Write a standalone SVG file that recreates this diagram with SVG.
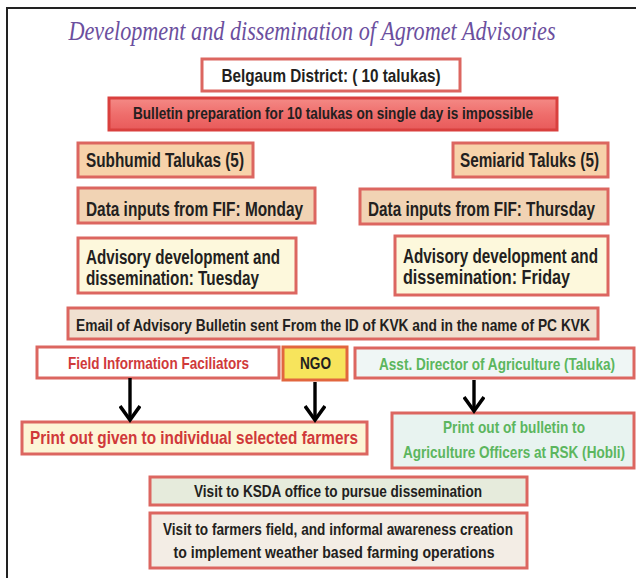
<svg xmlns="http://www.w3.org/2000/svg" width="637" height="578" viewBox="0 0 637 578">
<defs>
<style>
.bx{stroke:#dc6660;stroke-width:3}
.t{font-family:"Liberation Sans",Arial,sans-serif;font-weight:bold;fill:#231f20}
.red{fill:#d0393a}
.grn{fill:#5cb65e}
.ttl{font-family:"Liberation Serif","Times New Roman",serif;font-style:italic;fill:#6b4f9e;font-size:28px}
.ar{stroke:#000;stroke-width:3.4;fill:none}
</style>
<marker id="ah" markerUnits="userSpaceOnUse" markerWidth="20" markerHeight="22" refX="16" refY="11" orient="auto" viewBox="0 0 20 22">
<path d="M2,1 L16,11 L2,21" fill="none" stroke="#000" stroke-width="3.6" stroke-linejoin="miter"/>
</marker>
<linearGradient id="gRed" x1="0" y1="0" x2="0" y2="1">
<stop offset="0" stop-color="#f48a86"/><stop offset="0.5" stop-color="#ef6e6c"/><stop offset="1" stop-color="#e85a5a"/>
</linearGradient>
</defs>
<rect width="637" height="578" fill="#ffffff"/>
<path d="M7,578 V8 H636" fill="none" stroke="#222" stroke-width="2"/>
<text class="ttl" transform="translate(312,40) scale(0.83,1)" x="0" y="0" text-anchor="middle" textLength="587" lengthAdjust="spacingAndGlyphs">Development and dissemination of Agromet Advisories</text>

<g id="belgaum"><rect class="bx" x="202" y="59" width="258" height="32" fill="#ffffff"/>
<text class="t" transform="translate(331,82) scale(0.8,1)" x="0" y="0" font-size="18" text-anchor="middle" textLength="273.75" lengthAdjust="spacingAndGlyphs">Belgaum District: ( 10 talukas)</text></g>

<g id="bulletin"><rect x="109" y="98" width="448" height="32" fill="url(#gRed)" stroke="#d9403e" stroke-width="3"/>
<text class="t" transform="translate(333,119) scale(0.8,1)" x="0" y="0" font-size="16" text-anchor="middle" textLength="500" lengthAdjust="spacingAndGlyphs">Bulletin preparation for 10 talukas on single day is impossible</text></g>

<g id="subhumid"><rect class="bx" x="78" y="143" width="175" height="34" fill="#f7d2aa"/>
<text class="t" transform="translate(86,167) scale(0.8,1)" x="0" y="0" font-size="20" textLength="197.5" lengthAdjust="spacingAndGlyphs">Subhumid Talukas (5)</text></g>

<g id="data-monday"><rect class="bx" x="78" y="188" width="237" height="35" fill="#f1d3b4"/>
<text class="t" transform="translate(86,216) scale(0.8,1)" x="0" y="0" font-size="20" textLength="271.25" lengthAdjust="spacingAndGlyphs">Data inputs from FIF: Monday</text></g>

<g id="adv-tuesday"><rect class="bx" x="78" y="238" width="218" height="55" fill="#fdf8dc"/>
<text class="t" transform="translate(86,264) scale(0.8,1)" x="0" y="0" font-size="20" textLength="242.5" lengthAdjust="spacingAndGlyphs">Advisory development and</text>
<text class="t" transform="translate(86,285) scale(0.8,1)" x="0" y="0" font-size="20" textLength="216.25" lengthAdjust="spacingAndGlyphs">dissemination: Tuesday</text></g>

<g id="semiarid"><rect class="bx" x="453" y="143" width="155" height="34" fill="#f7d2aa"/>
<text class="t" transform="translate(460,167) scale(0.8,1)" x="0" y="0" font-size="20" textLength="173.75" lengthAdjust="spacingAndGlyphs">Semiarid Taluks (5)</text></g>

<g id="data-thursday"><rect class="bx" x="360" y="189" width="248" height="35" fill="#f1d3b4"/>
<text class="t" transform="translate(368,216) scale(0.8,1)" x="0" y="0" font-size="20" textLength="283.75" lengthAdjust="spacingAndGlyphs">Data inputs from FIF: Thursday</text></g>

<g id="adv-friday"><rect class="bx" x="395" y="236" width="213" height="59" fill="#fdf8dc"/>
<text class="t" transform="translate(403,263) scale(0.8,1)" x="0" y="0" font-size="20" textLength="243.75" lengthAdjust="spacingAndGlyphs">Advisory development and</text>
<text class="t" transform="translate(403,284) scale(0.8,1)" x="0" y="0" font-size="20" textLength="208.75" lengthAdjust="spacingAndGlyphs">dissemination: Friday</text></g>

<g id="email"><rect class="bx" x="68" y="308" width="530" height="31" fill="#f0e0d0"/>
<text class="t" transform="translate(76,331) scale(0.8,1)" x="0" y="0" font-size="16" textLength="642.5" lengthAdjust="spacingAndGlyphs">Email of Advisory Bulletin sent From the ID of KVK and in the name of PC KVK</text></g>

<g id="fif"><rect class="bx" x="37" y="347" width="242" height="31" fill="#ffffff"/>
<text class="t red" transform="translate(158.5,369) scale(0.8,1)" x="0" y="0" font-size="16" text-anchor="middle" textLength="226.25" lengthAdjust="spacingAndGlyphs">Field Information Faciliators</text></g>

<g id="ngo"><rect x="283" y="347" width="64" height="33" fill="#f7e45c" stroke="#e2663e" stroke-width="3"/>
<text class="t" transform="translate(315.5,369) scale(0.8,1)" x="0" y="0" font-size="16" text-anchor="middle" textLength="38.75" lengthAdjust="spacingAndGlyphs">NGO</text></g>

<g id="asst"><rect class="bx" x="355" y="348" width="279" height="30" fill="#eff6f5"/>
<text class="t grn" transform="translate(497,370) scale(0.8,1)" x="0" y="0" font-size="16" text-anchor="middle" textLength="295" lengthAdjust="spacingAndGlyphs">Asst. Director of Agriculture (Taluka)</text></g>

<g id="print-farmers"><rect class="bx" x="22" y="422" width="345" height="32" fill="#fdf5d6"/>
<text class="t red" transform="translate(30,444) scale(0.8,1)" x="0" y="0" font-size="18" textLength="410" lengthAdjust="spacingAndGlyphs">Print out given to individual selected farmers</text></g>

<g id="print-bulletin"><rect class="bx" x="392" y="413" width="242" height="55" fill="#e8f3f0"/>
<text class="t grn" transform="translate(514,433) scale(0.8,1)" x="0" y="0" font-size="16" text-anchor="middle" textLength="177.5" lengthAdjust="spacingAndGlyphs">Print out of bulletin to</text>
<text class="t grn" transform="translate(514,458) scale(0.8,1)" x="0" y="0" font-size="16" text-anchor="middle" textLength="277.5" lengthAdjust="spacingAndGlyphs">Agriculture Officers at RSK (Hobli)</text></g>

<g id="ksda"><rect class="bx" x="150" y="477" width="377" height="28" fill="#e6ebdc"/>
<text class="t" transform="translate(338,497) scale(0.8,1)" x="0" y="0" font-size="16" text-anchor="middle" textLength="360" lengthAdjust="spacingAndGlyphs">Visit to KSDA office to pursue dissemination</text></g>

<g id="farmers-field"><rect class="bx" x="150" y="513" width="377" height="55" fill="#f3ede5"/>
<text class="t" transform="translate(338,535) scale(0.8,1)" x="0" y="0" font-size="16" text-anchor="middle" textLength="437.5" lengthAdjust="spacingAndGlyphs">Visit to farmers field, and informal awareness creation</text>
<text class="t" transform="translate(334,558) scale(0.8,1)" x="0" y="0" font-size="16" text-anchor="middle" textLength="401.25" lengthAdjust="spacingAndGlyphs">to implement weather based farming operations</text></g>

<g id="connectors">
<path class="ar" d="M130,378 V420" marker-end="url(#ah)"/>
<path class="ar" d="M315,382 V420" marker-end="url(#ah)"/>
<path class="ar" d="M474,380 V411" marker-end="url(#ah)"/>
</g>
</svg>
